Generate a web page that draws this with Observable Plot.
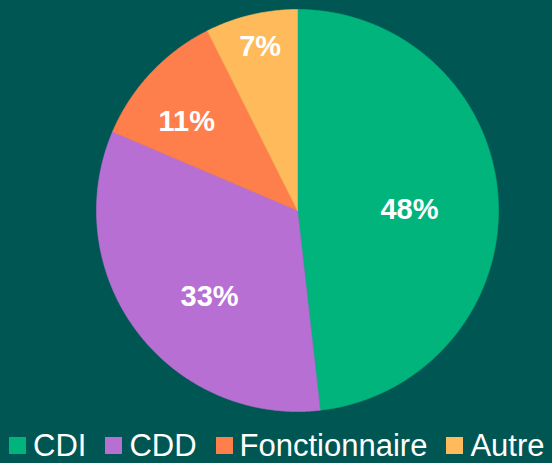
<!DOCTYPE html>
<html>
<head>
<meta charset="utf-8">
<script src="https://cdn.jsdelivr.net/npm/d3@7"></script>
<script src="https://cdn.jsdelivr.net/npm/@observablehq/plot@0.6"></script>
<style>
  html, body { margin: 0; padding: 0; background: #005652; }
  body { width: 552px; height: 463px; position: relative; overflow: hidden; font-family: "Liberation Sans", Arial, sans-serif; }
  #chart { position: absolute; left: 0; top: 0; }
  #legend { position: absolute; left: 9px; top: 430px; display: flex; align-items: center; color: #ffffff; font-size: 31px; line-height: 31px; white-space: nowrap; }
  .item { display: flex; align-items: center; margin-right: 19px; }
  .sw { width: 17px; height: 17px; margin-right: 7px; }
</style>
</head>
<body>
<div id="chart"></div>
<div id="legend"></div>
<script>
// Data
const categories = ["CDI", "CDD", "Fonctionnaire", "Autre"];
const shares = [48.2, 33.2, 11.2, 7.4];
const labels = ["48%", "33%", "11%", "7%"];
const colors = ["#00b47b", "#b86fd4", "#ff7f4c", "#ffba5b"];
// label placement (layout only): angle in degrees clockwise from top, radius as fraction of pie radius
const labelAngle = [90.8, 224.8, 308.1, 347.0];
const labelRadius = [0.557, 0.621, 0.70, 0.826];

const rows = categories.map((c, i) => ({cat: c, value: shares[i], label: labels[i], la: labelAngle[i] * Math.PI / 180, lr: labelRadius[i]}));
const arcs = d3.pie().sort(null).value(d => d.value).startAngle(0).endAngle(2 * Math.PI)(rows);

const poly = [];
const labelPts = [];
arcs.forEach(a => {
  poly.push({cat: a.data.cat, x: 0, y: 0});
  const n = Math.max(2, Math.ceil((a.endAngle - a.startAngle) / (Math.PI / 360)));
  for (let k = 0; k <= n; k++) {
    const t = a.startAngle + (a.endAngle - a.startAngle) * k / n;
    poly.push({cat: a.data.cat, x: Math.sin(t), y: Math.cos(t)});
  }
  poly.push({cat: a.data.cat, x: 0, y: 0});
  labelPts.push({label: a.data.label, x: a.data.lr * Math.sin(a.data.la), y: a.data.lr * Math.cos(a.data.la)});
});

const cx = 297, cy = 210, r = 201;
const chart = Plot.plot({
  width: 552,
  height: 420,
  margin: 0,
  style: {background: "transparent", fontFamily: "Liberation Sans, Arial, sans-serif"},
  x: {domain: [-1, 1], range: [cx - r, cx + r], axis: null},
  y: {domain: [-1, 1], range: [cy + r, cy - r], axis: null},
  color: {domain: categories, range: colors},
  marks: [
    Plot.line(poly, {x: "x", y: "y", z: "cat", fill: "cat", stroke: "cat", strokeWidth: 0.6, curve: "linear"}),
    Plot.text(labelPts, {x: "x", y: "y", text: "label", fill: "white", fontSize: 29, fontWeight: "bold", textAnchor: "middle", dy: -2})
  ]
});
document.getElementById("chart").appendChild(chart);

const lg = document.getElementById("legend");
categories.forEach((c, i) => {
  const it = document.createElement("div");
  it.className = "item";
  const sw = document.createElement("div");
  sw.className = "sw";
  sw.style.background = colors[i];
  const tx = document.createElement("span");
  tx.textContent = c;
  it.appendChild(sw);
  it.appendChild(tx);
  lg.appendChild(it);
});
</script>
</body>
</html>
